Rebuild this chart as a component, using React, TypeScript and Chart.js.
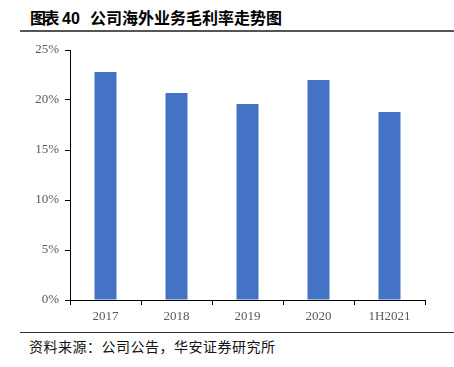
import React, { useEffect, useRef } from "react";
import { Chart, registerables } from "chart.js";

Chart.register(...registerables);

const categories = ["2017", "2018", "2019", "2020", "1H2021"];
const marginValues = [22.8, 20.7, 19.6, 22.0, 18.8];
const yTicks = [0, 5, 10, 15, 20, 25];

const titleFont = "Arial, 'Liberation Sans', 'Noto Sans CJK SC', sans-serif";

export default function App() {
  const ref = useRef<HTMLCanvasElement>(null);
  useEffect(() => {
    document.body.style.margin = "0";
    const ctx = ref.current!;
    const chart = new Chart(ctx, {
      type: "bar",
      data: {
        labels: categories,
        datasets: [
          {
            data: marginValues,
            backgroundColor: "#4472C4",
            barPercentage: 0.31,
            categoryPercentage: 1,
          },
        ],
      },
      options: {
        animation: false,
        responsive: false,
        maintainAspectRatio: false,
        layout: { padding: { left: 0, right: 29, top: 20, bottom: 0 } },
        plugins: { legend: { display: false }, tooltip: { enabled: false } },
        scales: {
          x: {
            grid: {
              display: true,
              drawOnChartArea: false,
              drawTicks: true,
              tickLength: 5,
              color: "#000",
              offset: true,
            },
            border: { display: true, color: "#000", width: 1 },
            ticks: {
              color: "#595959",
              font: { family: "'Liberation Serif', 'Times New Roman', serif", size: 13 },
              padding: 4,
            },
            afterFit: (s: any) => {
              s.height = 30;
            },
          },
          y: {
            min: 0,
            max: 25,
            afterBuildTicks: (s: any) => {
              s.ticks = yTicks.map((v) => ({ value: v }));
            },
            grid: {
              display: true,
              drawOnChartArea: false,
              drawTicks: true,
              tickLength: 5,
              color: "#000",
            },
            border: { display: true, color: "#000", width: 1 },
            ticks: {
              color: "#595959",
              font: { family: "'Liberation Serif', 'Times New Roman', serif", size: 13 },
              padding: 6,
              callback: (v: any) => v + "%",
            },
            afterFit: (s: any) => {
              s.width = 70;
            },
          },
        },
      },
    });
    return () => chart.destroy();
  }, []);

  const titleStyle: React.CSSProperties = {
    position: "absolute",
    top: 10,
    fontFamily: titleFont,
    fontWeight: "bold",
    fontSize: 16,
    color: "#000",
    whiteSpace: "nowrap",
    lineHeight: "18px",
  };

  return (
    <div style={{ position: "fixed", left: 0, top: 0, width: 454, height: 367, background: "#fff" }}>
      <div style={{ ...titleStyle, left: 30, letterSpacing: -2.5 }}>图表</div>
      <div style={{ ...titleStyle, left: 62 }}>40</div>
      <div style={{ ...titleStyle, left: 90 }}>公司海外业务毛利率走势图</div>
      <div style={{ position: "absolute", left: 20, top: 30, width: 434, height: 1.5, background: "#555" }} />
      <canvas
        ref={ref}
        width={454}
        height={300}
        style={{ position: "absolute", left: 0, top: 30, width: 454, height: 300 }}
      />
      <div style={{ position: "absolute", left: 20, top: 332, width: 434, height: 1, background: "#333" }} />
      <div
        style={{
          position: "absolute",
          left: 29,
          top: 337,
          fontFamily: "'Noto Sans CJK SC', sans-serif",
          fontSize: 14,
          letterSpacing: 0.5,
          color: "#111",
          whiteSpace: "nowrap",
          lineHeight: "18px",
        }}
      >
        资料来源：公司公告，华安证券研究所
      </div>
    </div>
  );
}
